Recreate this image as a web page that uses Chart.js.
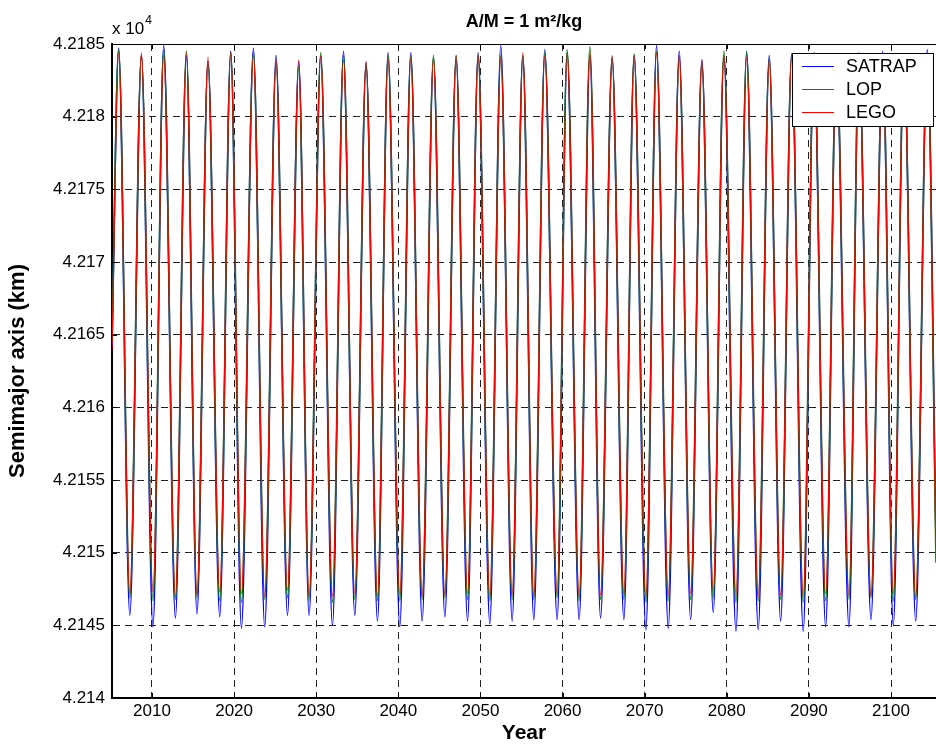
<!DOCTYPE html>
<html>
<head>
<meta charset="utf-8">
<title>Semimajor axis, A/M = 1 m2/kg</title>
<script src="https://cdn.jsdelivr.net/npm/chart.js@4.4.1/dist/chart.umd.min.js"></script>
<style>
  html, body { margin: 0; padding: 0; background: #fff; }
  canvas { display: block; }
</style>
</head>
<body>
<canvas id="sma" width="936" height="746"></canvas>
<script>
// turning points of the semimajor axis (decimal year): start, then peak/trough pairs, then end
const extremaYears = [
  2005.13,
  2005.94, 2007.30, 2008.71, 2010.12, 2011.43, 2012.85, 2014.19, 2015.48, 2016.82, 2018.25,
  2019.59, 2020.89, 2022.35, 2023.73, 2025.11, 2026.50, 2027.87, 2029.13, 2030.55, 2031.98,
  2033.32, 2034.70, 2036.07, 2037.46, 2038.75, 2040.18, 2041.52, 2042.90, 2044.28, 2045.67,
  2047.04, 2048.43, 2049.72, 2051.14, 2052.48, 2053.86, 2055.16, 2056.50, 2057.84, 2059.34,
  2060.56, 2062.02, 2063.33, 2064.63, 2066.04, 2067.47, 2068.72, 2070.15, 2071.45, 2072.87,
  2074.21, 2075.60, 2076.97, 2078.35, 2079.65, 2081.12, 2082.42, 2083.83, 2085.17, 2086.56,
  2087.90, 2089.31, 2090.62, 2092.04, 2093.36, 2094.88, 2096.10, 2097.56, 2098.99, 2100.28,
  2101.58, 2103.01, 2104.42,
  2105.48
];

// semimajor axis at those turning points, km
const satrapKm = [
  42164.3,
  42184.7, 42145.7, 42184.2, 42144.9, 42184.9, 42145.5, 42184.2, 42145.8, 42183.8, 42145.6,
  42184.5, 42144.8, 42184.7, 42144.9, 42184.2, 42145.7, 42183.8, 42145.7, 42184.2, 42145.0,
  42184.5, 42145.7, 42183.7, 42145.3, 42184.4, 42144.9, 42184.4, 42145.3, 42184.0, 42145.6,
  42184.0, 42145.3, 42184.4, 42145.1, 42184.9, 42145.3, 42184.2, 42145.4, 42184.6, 42145.4,
  42184.4, 42145.4, 42184.2, 42145.5, 42184.0, 42145.4, 42184.2, 42144.7, 42184.9, 42144.8,
  42184.5, 42145.4, 42183.9, 42145.9, 42184.2, 42144.6, 42184.4, 42144.7, 42184.2, 42145.3,
  42184.3, 42144.6, 42184.3, 42144.9, 42184.2, 42144.9, 42184.4, 42145.4, 42184.5, 42145.0,
  42184.3, 42145.3, 42184.6,
  42150.8
];

const lopKm = [
  42164.5,
  42184.6, 42146.9, 42184.2, 42146.7, 42184.6, 42146.8, 42184.5, 42146.9, 42183.8, 42146.7,
  42184.4, 42146.6, 42184.4, 42146.8, 42183.8, 42146.9, 42183.4, 42146.7, 42184.4, 42146.6,
  42184.2, 42146.8, 42183.6, 42146.7, 42184.2, 42146.7, 42184.2, 42146.8, 42184.2, 42146.9,
  42184.2, 42146.8, 42184.2, 42146.7, 42184.2, 42146.8, 42184.2, 42146.8, 42184.4, 42146.9,
  42184.6, 42146.7, 42184.8, 42146.8, 42184.1, 42146.8, 42184.3, 42146.6, 42184.5, 42146.7,
  42184.1, 42146.8, 42183.7, 42146.9, 42184.5, 42146.6, 42184.5, 42146.7, 42184.0, 42146.8,
  42184.2, 42146.6, 42184.4, 42146.7, 42184.3, 42146.8, 42184.2, 42146.9, 42184.3, 42146.7,
  42184.2, 42146.8, 42184.4,
  42149.3
];

const legoKm = [
  42164.0,
  42184.4, 42147.2, 42184.4, 42147.3, 42184.2, 42147.0, 42184.4, 42147.1, 42184.1, 42147.3,
  42184.4, 42147.2, 42184.2, 42147.0, 42183.9, 42147.4, 42183.9, 42147.0, 42184.2, 42147.0,
  42183.9, 42147.2, 42183.8, 42147.0, 42184.0, 42147.1, 42184.1, 42147.0, 42184.0, 42147.1,
  42184.2, 42147.2, 42184.2, 42147.0, 42184.1, 42147.1, 42184.4, 42147.0, 42184.2, 42147.2,
  42184.4, 42147.0, 42184.5, 42147.1, 42184.2, 42147.2, 42184.2, 42147.0, 42184.4, 42147.1,
  42184.2, 42147.2, 42183.9, 42147.4, 42184.2, 42147.1, 42184.1, 42147.0, 42183.9, 42147.1,
  42184.2, 42147.0, 42184.1, 42147.2, 42184.2, 42147.1, 42184.1, 42147.0, 42184.2, 42147.2,
  42184.1, 42147.0, 42184.2,
  42150.5
];

const seriesNames = ['SATRAP', 'LOP', 'LEGO'];
const seriesColors = ['#0000ff', '#008000', '#ff0000'];
const seriesWidths = [1.6, 1.6, 1.1];

const xTicks = [2010, 2020, 2030, 2040, 2050, 2060, 2070, 2080, 2090, 2100];
const yTicks = [42140, 42145, 42150, 42155, 42160, 42165, 42170, 42175, 42180, 42185];
const yTickLabels = ['4.214', '4.2145', '4.215', '4.2155', '4.216', '4.2165', '4.217', '4.2175', '4.218', '4.2185'];

const FONT = "'Liberation Sans', Arial, Helvetica, sans-serif";

const toPoints = ys => extremaYears.map((t, i) => ({ x: t, y: ys[i] }));

// box frame, inward ticks, exponent label and legend drawn on top of the data
const matlabFrame = {
  id: 'matlabFrame',
  afterDatasetsDraw(chart) {
    const { ctx, chartArea: a, scales: { x, y } } = chart;
    ctx.save();
    ctx.strokeStyle = '#000';
    ctx.lineWidth = 1;
    ctx.beginPath();
    ctx.moveTo(a.left, a.top + 0.5);
    ctx.lineTo(a.right, a.top + 0.5);
    xTicks.forEach(v => {
      const px = Math.round(x.getPixelForValue(v)) + 0.5;
      ctx.moveTo(px, a.top);
      ctx.lineTo(px, a.top + 5);
      ctx.moveTo(px, a.bottom);
      ctx.lineTo(px, a.bottom - 5);
    });
    yTicks.forEach(v => {
      const py = Math.round(y.getPixelForValue(v)) + 0.5;
      ctx.moveTo(a.left, py);
      ctx.lineTo(a.left + 5, py);
    });
    ctx.stroke();

    // x 10^4 exponent above the y axis
    ctx.fillStyle = '#000';
    ctx.textBaseline = 'alphabetic';
    ctx.textAlign = 'left';
    ctx.font = `17px ${FONT}`;
    ctx.fillText('x 10', a.left, a.top - 10);
    const w = ctx.measureText('x 10').width;
    ctx.font = `12px ${FONT}`;
    ctx.fillText('4', a.left + w + 1, a.top - 20);

    // legend box in the upper right corner
    const bx = a.right - 144, by = a.top + 9, bw = 141, bh = 73;
    ctx.fillStyle = '#fff';
    ctx.fillRect(bx, by, bw, bh);
    ctx.strokeStyle = '#000';
    ctx.lineWidth = 1;
    ctx.strokeRect(bx + 0.5, by + 0.5, bw, bh);
    ctx.font = `18px ${FONT}`;
    ctx.textBaseline = 'middle';
    seriesNames.forEach((name, i) => {
      const ly = by + 13 + i * 23 + 0.5;
      ctx.strokeStyle = seriesColors[i];
      ctx.beginPath();
      ctx.moveTo(bx + 10, ly);
      ctx.lineTo(bx + 42, ly);
      ctx.stroke();
      ctx.fillStyle = '#000';
      ctx.fillText(name, bx + 54, ly + 1);
    });
    ctx.restore();
  }
};

new Chart(document.getElementById('sma'), {
  type: 'line',
  data: {
    datasets: [
      { label: seriesNames[0], data: toPoints(satrapKm), borderColor: seriesColors[0], borderWidth: seriesWidths[0], order: 2 },
      { label: seriesNames[1], data: toPoints(lopKm), borderColor: seriesColors[1], borderWidth: seriesWidths[1], order: 1 },
      { label: seriesNames[2], data: toPoints(legoKm), borderColor: seriesColors[2], borderWidth: seriesWidths[2], order: 0 }
    ]
  },
  options: {
    responsive: false,
    animation: false,
    devicePixelRatio: 1,
    layout: { padding: 0 },
    elements: {
      line: { cubicInterpolationMode: 'monotone', fill: false },
      point: { radius: 0, hoverRadius: 0 }
    },
    plugins: {
      legend: { display: false },
      tooltip: { enabled: false },
      title: {
        display: true,
        fullSize: false,
        text: 'A/M = 1 m²/kg',
        color: '#000',
        font: { family: FONT, size: 18, weight: 'bold', lineHeight: 1.2 },
        padding: { top: 11, bottom: 11.4 }
      }
    },
    scales: {
      x: {
        type: 'linear',
        min: 2005.13,
        max: 2105.48,
        afterBuildTicks: s => { s.ticks = xTicks.map(v => ({ value: v })); },
        afterFit: s => { s.height = 48; },
        ticks: {
          color: '#000',
          font: { family: FONT, size: 17 },
          padding: 3,
          maxRotation: 0,
          callback: v => String(v)
        },
        grid: { color: '#222', lineWidth: 1, drawTicks: false },
        border: { display: true, color: '#000', width: 2, dash: [7, 5] },
        title: {
          display: true,
          text: 'Year',
          color: '#000',
          font: { family: FONT, size: 21, weight: 'bold' },
          padding: { top: 0, bottom: 0 }
        }
      },
      y: {
        type: 'linear',
        min: 42140,
        max: 42185,
        afterBuildTicks: s => { s.ticks = yTicks.map(v => ({ value: v })); },
        afterFit: s => { s.width = 112; },
        ticks: {
          color: '#000',
          font: { family: FONT, size: 17 },
          padding: 7,
          callback: (v, i) => yTickLabels[i]
        },
        grid: { color: '#222', lineWidth: 1, drawTicks: false },
        border: { display: true, color: '#000', width: 2, dash: [7, 5] },
        title: {
          display: true,
          text: 'Semimajor axis (km)',
          color: '#000',
          font: { family: FONT, size: 22, weight: 'bold' },
          padding: { top: 5, bottom: 0 }
        }
      }
    }
  },
  plugins: [matlabFrame]
});
</script>
</body>
</html>
